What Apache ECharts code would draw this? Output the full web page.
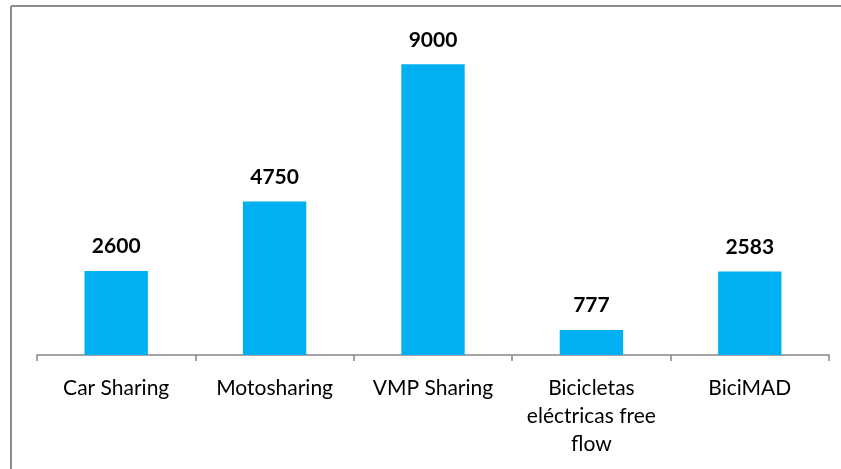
<!DOCTYPE html>
<html>
<head>
<meta charset="utf-8">
<script src="https://cdn.jsdelivr.net/npm/echarts@6/dist/echarts.min.js"></script>
<style>
html,body{margin:0;padding:0;background:#fff;}
#chart{width:841px;height:469px;}
</style>
</head>
<body>
<div id="chart"></div>
<script>
const categories = ['Car Sharing', 'Motosharing', 'VMP Sharing', 'Bicicletas\neléctricas free\nflow', 'BiciMAD'];
const values = [2600, 4750, 9000, 777, 2583];

const chart = echarts.init(document.getElementById('chart'), null, {renderer: 'canvas'});
chart.setOption({
  animation: false,
  backgroundColor: '#ffffff',
  textStyle: {fontFamily: 'Lato, "Open Sans", sans-serif'},
  graphic: [
    {type: 'line', shape: {x1: 11, y1: 6, x2: 841, y2: 6}, style: {stroke: '#8c8c8c', lineWidth: 2}},
    {type: 'line', shape: {x1: 11, y1: 6, x2: 11, y2: 469}, style: {stroke: '#8c8c8c', lineWidth: 2}}
  ],
  grid: {left: 37, right: 12, top: 32, bottom: 114, containLabel: false},
  xAxis: {
    type: 'category',
    data: categories,
    axisLine: {lineStyle: {color: '#868686', width: 1.5}},
    axisTick: {show: true, length: 6, lineStyle: {color: '#868686', width: 1.5}},
    axisLabel: {color: '#000', fontSize: 21, lineHeight: 28, margin: 19, interval: 0, fontFamily: 'Lato, sans-serif'}
  },
  yAxis: {
    type: 'value',
    min: 0, max: 10000,
    show: false,
    splitLine: {show: false}
  },
  series: [{
    type: 'bar',
    data: values,
    barWidth: '40%',
    itemStyle: {color: '#00B0F0'},
    label: {
      show: true,
      position: 'top',
      distance: 14,
      color: '#000',
      fontWeight: 'bold',
      fontSize: 21,
      fontFamily: 'Lato, sans-serif'
    }
  }]
});
</script>
</body>
</html>
